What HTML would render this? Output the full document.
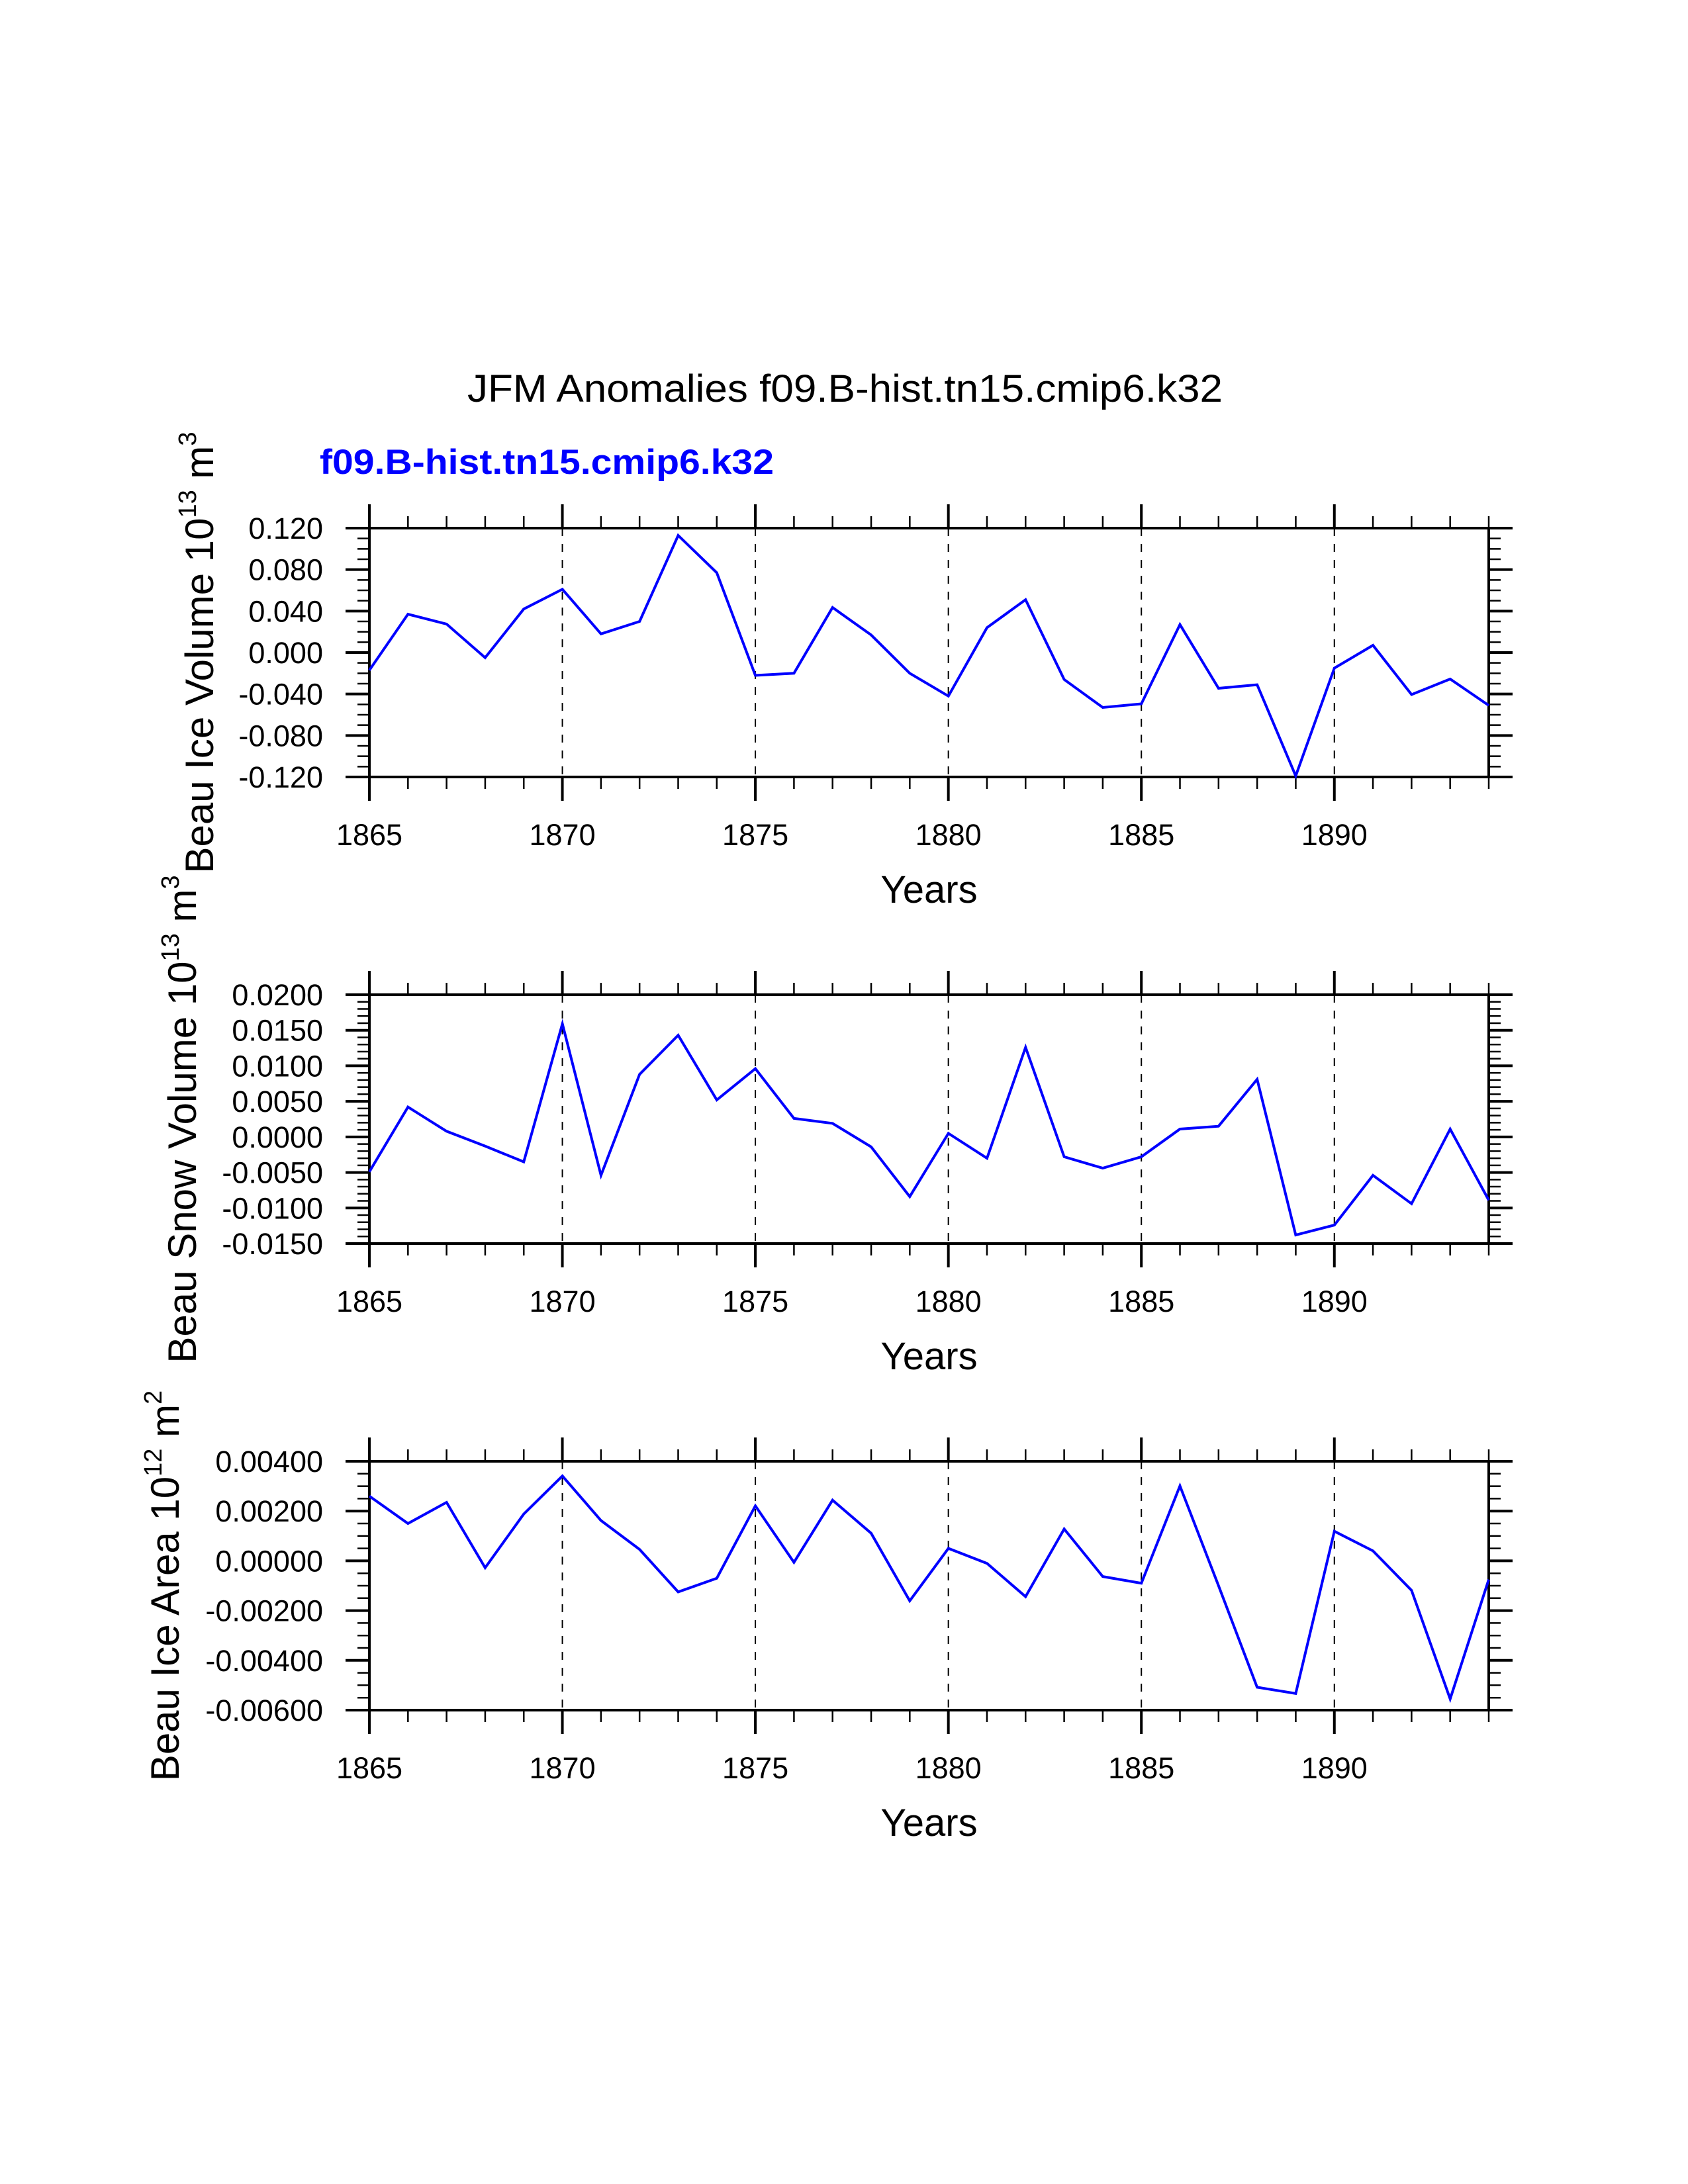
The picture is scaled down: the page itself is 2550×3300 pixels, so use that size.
<!DOCTYPE html>
<html><head><meta charset="utf-8">
<style>html,body{margin:0;padding:0;background:#fff}svg{display:block}text{font-family:"Liberation Sans",Arial,sans-serif}</style>
</head><body>
<svg id="chart" width="2550" height="3300" viewBox="0 0 2550 3300" xmlns="http://www.w3.org/2000/svg">
<rect width="2550" height="3300" fill="#fff"/>
<text x="706" y="607" font-size="58" textLength="1141" lengthAdjust="spacingAndGlyphs">JFM Anomalies f09.B-hist.tn15.cmip6.k32</text>
<text x="483" y="716" font-size="53" font-weight="bold" fill="#0000ff" textLength="686" lengthAdjust="spacingAndGlyphs">f09.B-hist.tn15.cmip6.k32</text>
</svg>
<script>
const years = [1865,1866,1867,1868,1869,1870,1871,1872,1873,1874,1875,1876,1877,1878,1879,1880,1881,1882,1883,1884,1885,1886,1887,1888,1889,1890,1891,1892,1893,1894];
const iceVolume = [-0.017,0.037,0.0275,-0.005,0.042,0.061,0.018,0.030,0.113,0.077,-0.022,-0.020,0.0435,0.017,-0.020,-0.042,0.024,0.051,-0.026,-0.053,-0.0495,0.027,-0.0345,-0.031,-0.119,-0.015,0.007,-0.0405,-0.0255,-0.051];
const snowVolume = [-0.0049,0.0042,0.0008,-0.0013,-0.0035,0.0159,-0.0054,0.0088,0.0143,0.0052,0.0096,0.0026,0.0019,-0.0014,-0.0084,0.0005,-0.0030,0.0126,-0.0028,-0.0044,-0.0028,0.0011,0.0015,0.0081,-0.0138,-0.0124,-0.0054,-0.0094,0.0011,-0.0089];
const iceArea = [0.0026,0.0015,0.00235,-0.00028,0.00188,0.00341,0.00162,0.00046,-0.00125,-0.0007,0.00221,-0.00006,0.00244,0.00111,-0.00161,0.0005,-0.0001,-0.00144,0.00128,-0.00063,-0.0009,0.00301,-0.0010,-0.00508,-0.00533,0.00119,0.0004,-0.00119,-0.00555,-0.00075];
const xTickYears = [1865,1870,1875,1880,1885,1890];
const iceVolTicks = [0.12,0.08,0.04,0,-0.04,-0.08,-0.12];
const iceVolLabels = ["0.120","0.080","0.040","0.000","-0.040","-0.080","-0.120"];
const snowTicks = [0.02,0.015,0.01,0.005,0,-0.005,-0.01,-0.015];
const snowLabels = ["0.0200","0.0150","0.0100","0.0050","0.0000","-0.0050","-0.0100","-0.0150"];
const areaTicks = [0.004,0.002,0,-0.002,-0.004,-0.006];
const areaLabels = ["0.00400","0.00200","0.00000","-0.00200","-0.00400","-0.00600"];

const NS = "http://www.w3.org/2000/svg";
const svg = document.getElementById('chart');
const L = 558, R = 2249, H = 376;
const xMin = 1865, xMax = 1894;
function xs(v){ return L + (v - xMin) / (xMax - xMin) * (R - L); }
function mk(tag, attrs, parent){ const e = document.createElementNS(NS, tag); for (const k in attrs) e.setAttribute(k, attrs[k]); (parent||svg).appendChild(e); return e; }

function panel(cfg){
  const T = cfg.top, B = T + H;
  const ys = v => T + (cfg.yMax - v) / (cfg.yMax - cfg.yMin) * H;
  const g = mk('g', {});
  
  
  // dashed grid
  xTickYears.slice(1).forEach(yr => {
    const l = mk('line', {x1: xs(yr), x2: xs(yr), y1: T, y2: B, stroke: '#000', 'stroke-width': 2, 'stroke-dasharray': '12,12'}, g);
    
    
  });
  // x ticks (top and bottom)
  years.forEach(yr => {
    const major = xTickYears.includes(yr);
    const len = major ? 36 : 18;
    const sw = major ? 4 : 2.5;
    mk('line', {x1: xs(yr), x2: xs(yr), y1: B, y2: B + len, stroke: '#000', 'stroke-width': sw}, g);
    mk('line', {x1: xs(yr), x2: xs(yr), y1: T, y2: T - len, stroke: '#000', 'stroke-width': sw}, g);
  });
  xTickYears.forEach(yr => {
    const t = mk('text', {x: xs(yr), y: B + 103, 'font-size': 45, 'text-anchor': 'middle'}, g);
    
    
    t.textContent = yr;
  });
  // y minor ticks
  const step = cfg.minorStep;
  const n = Math.round((cfg.yMax - cfg.yMin) / step);
  for (let i = 0; i <= n; i++) {
    const v = cfg.yMin + i * step;
    const y = ys(v);
    mk('line', {x1: L, x2: L - 18, y1: y, y2: y, stroke: '#000', 'stroke-width': 2.5}, g);
    mk('line', {x1: R, x2: R + 18, y1: y, y2: y, stroke: '#000', 'stroke-width': 2.5}, g);
  }
  cfg.ticks.forEach((v, i) => {
    const y = ys(v);
    mk('line', {x1: L, x2: L - 36, y1: y, y2: y, stroke: '#000', 'stroke-width': 4}, g);
    mk('line', {x1: R, x2: R + 36, y1: y, y2: y, stroke: '#000', 'stroke-width': 4}, g);
    const t = mk('text', {x: 488, y: y + 16, 'font-size': 45, 'text-anchor': 'end'}, g);
    
    
    t.textContent = cfg.labels[i];
  });
  // frame
  const fr = mk('rect', {x: L, y: T, width: R - L, height: H, fill: 'none', stroke: '#000', 'stroke-width': 4}, g);
  
  
  // series
  const pts = cfg.values.map((v, i) => xs(years[i]).toFixed(1) + ',' + ys(v).toFixed(1)).join(' ');
  const pl = mk('polyline', {points: pts, fill: 'none', stroke: '#0000ff', 'stroke-width': 4, 'stroke-linejoin': 'miter'}, g);
  
  
  // x title
  const xt = mk('text', {x: (L + R) / 2, y: B + 190, 'font-size': 58, 'text-anchor': 'middle'}, g);
  
  
  xt.textContent = 'Years';
  // y title
  const cy = (T + B) / 2;
  const yt = mk('text', {x: 0, y: 0, 'font-size': 60, 'text-anchor': 'middle', transform: 'translate(' + cfg.labelX + ',' + cy + ') rotate(-90)'}, g);
  
  
  const s1 = mk('tspan', {}, yt); s1.textContent = cfg.ylabel + ' 10';
  const s2 = mk('tspan', {dy: -26, 'font-size': 38}, yt); s2.textContent = cfg.exp;
  const s3 = mk('tspan', {dy: 26}, yt); s3.textContent = ' m';
  const s4 = mk('tspan', {dy: -26, 'font-size': 38}, yt); s4.textContent = cfg.unitExp;
}

panel({name: 'ice-volume-panel', top: 798, yMax: 0.12, yMin: -0.12, minorStep: 0.01, ticks: iceVolTicks, labels: iceVolLabels, values: iceVolume, labelX: 322, ylabel: 'Beau Ice Volume', exp: '13', unitExp: '3'});
panel({name: 'snow-volume-panel', top: 1503, yMax: 0.02, yMin: -0.015, minorStep: 0.001, ticks: snowTicks, labels: snowLabels, values: snowVolume, labelX: 296, ylabel: 'Beau Snow Volume', exp: '13', unitExp: '3'});
panel({name: 'ice-area-panel', top: 2208, yMax: 0.004, yMin: -0.006, minorStep: 0.0005, ticks: areaTicks, labels: areaLabels, values: iceArea, labelX: 270, ylabel: 'Beau Ice Area', exp: '12', unitExp: '2'});
</script>
</body></html>
